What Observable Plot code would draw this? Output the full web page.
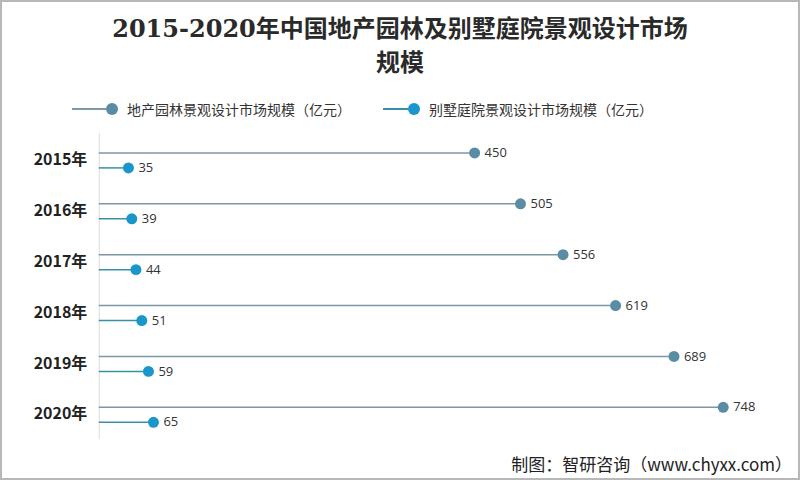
<!DOCTYPE html>
<html><head><meta charset="utf-8">
<script src="https://cdn.jsdelivr.net/npm/d3@7"></script>
<script src="https://cdn.jsdelivr.net/npm/@observablehq/plot@0.6"></script>
<style>
html,body{margin:0;padding:0;background:#fff;}
#frame{position:relative;width:796px;height:476px;border:2px solid #b8b8b8;overflow:hidden;background:#fff;font-family:"Noto Sans CJK SC","Noto Sans",sans-serif;}
#title{position:absolute;left:0;top:10px;width:796px;text-align:center;font-family:"DejaVu Serif","Noto Sans CJK SC",serif;font-weight:bold;font-size:24px;line-height:34px;color:#2a2a2a;}
.leg{position:absolute;top:96px;font-size:14px;color:#333;display:flex;align-items:center;height:22px;}
.leg .ln{display:inline-block;height:1.5px;}
.leg .dt{display:inline-block;width:12px;height:12px;border-radius:6px;margin-right:9px;}
#chart{position:absolute;left:-2px;top:123px;}
#cap{position:absolute;right:6px;top:449px;font-size:17px;color:#222;}
</style></head><body>
<div id="frame">
<div id="title">2015-2020年中国地产园林及别墅庭院景观设计市场<br>规模</div>
<div class="leg" style="left:70px"><span class="ln" style="width:34px;background:#7d98a4"></span><span class="dt" style="background:#5a8ca6"></span>地产园林景观设计市场规模（亿元）</div>
<div class="leg" style="left:381px"><span class="ln" style="width:25px;background:#3a8fa8"></span><span class="dt" style="background:#1b96cc"></span>别墅庭院景观设计市场规模（亿元）</div>
<div id="chart"></div>
<div id="cap">制图：智研咨询（www.chyxx.com）</div>
</div>
<script>
const years = ["2015年","2016年","2017年","2018年","2019年","2020年"];
const estate = [450, 505, 556, 619, 689, 748];
const villa = [35, 39, 44, 51, 59, 65];

const d1 = years.map((y,i)=>({year:y, v:estate[i]}));
const d2 = years.map((y,i)=>({year:y, v:villa[i]}));

const chart = Plot.plot({
  width: 800,
  height: 325,
  marginTop: 8,
  marginBottom: 10,
  marginLeft: 99,
  marginRight: 32,
  x: {domain:[0,800], axis:null},
  y: {domain: years, type:"band", padding:0, label:null},
  style: {fontFamily:"'Noto Sans CJK SC','Noto Sans',sans-serif"},
  marks: [
    Plot.axisY({tickSize:0, tickPadding:12, fontSize:16, fontWeight:"bold", fill:"#222", label:null}),
    Plot.ruleX([0], {stroke:"#dcdcdc"}),
    Plot.ruleY(d1, {y:"year", x1:0, x2:"v", dy:-7, stroke:"#7d98a4", strokeWidth:1.5}),
    Plot.ruleY(d2, {y:"year", x1:0, x2:"v", dy:8, stroke:"#3a8fa8", strokeWidth:1.5}),
    Plot.dot(d1, {y:"year", x:"v", dy:-7, r:5.5, fill:"#5a8ca6"}),
    Plot.dot(d2, {y:"year", x:"v", dy:8, r:5.5, fill:"#1b96cc"}),
    Plot.text(d1, {y:"year", x:"v", dy:-7, dx:10, text:d=>String(d.v), textAnchor:"start", fontSize:13, fill:"#333", fontFamily:"'Open Sans','Noto Sans',sans-serif"}),
    Plot.text(d2, {y:"year", x:"v", dy:8, dx:10, text:d=>String(d.v), textAnchor:"start", fontSize:13, fill:"#333", fontFamily:"'Open Sans','Noto Sans',sans-serif"})
  ]
});
document.getElementById("chart").appendChild(chart);
</script>
</body></html>
